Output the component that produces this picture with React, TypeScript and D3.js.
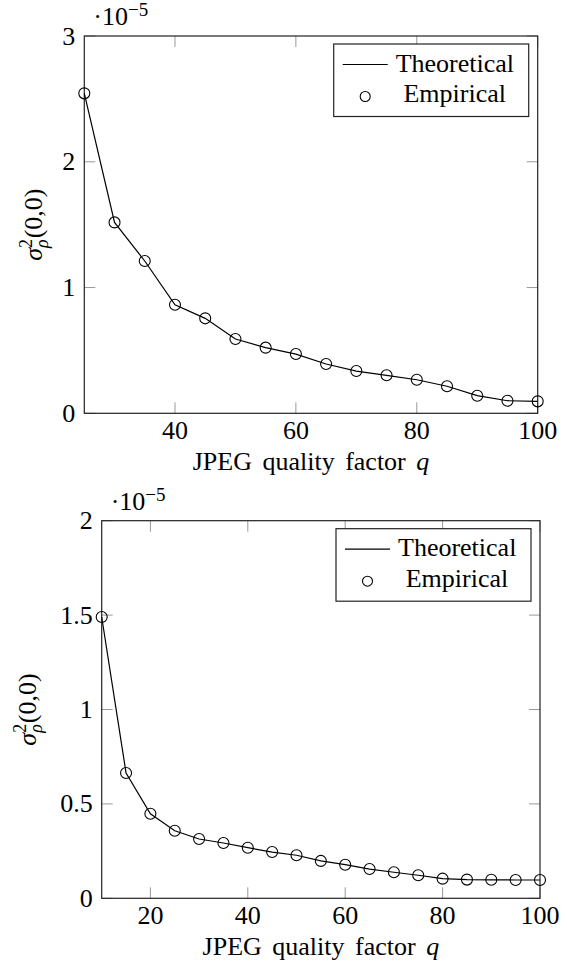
import React from "react";
import * as d3 from "d3";

const qTop = [25, 30, 35, 40, 45, 50, 55, 60, 65, 70, 75, 80, 85, 90, 95, 100];
const theoreticalTop = [2.544, 1.518, 1.211, 0.863, 0.755, 0.591, 0.522, 0.471, 0.392, 0.336, 0.302, 0.267, 0.215, 0.14, 0.1, 0.095];
const empiricalTop = [2.544, 1.518, 1.211, 0.863, 0.755, 0.591, 0.522, 0.471, 0.392, 0.336, 0.302, 0.267, 0.215, 0.14, 0.1, 0.095];
const xTicksTop = [40, 60, 80, 100];
const yTicksTop = [0, 1, 2, 3];

const qBottom = [10, 15, 20, 25, 30, 35, 40, 45, 50, 55, 60, 65, 70, 75, 80, 85, 90, 95, 100];
const theoreticalBottom = [1.49, 0.664, 0.448, 0.358, 0.314, 0.293, 0.268, 0.245, 0.228, 0.198, 0.178, 0.155, 0.138, 0.122, 0.104, 0.099, 0.098, 0.097, 0.097];
const empiricalBottom = [1.49, 0.664, 0.448, 0.358, 0.314, 0.293, 0.268, 0.245, 0.228, 0.198, 0.178, 0.155, 0.138, 0.122, 0.104, 0.099, 0.098, 0.097, 0.097];
const xTicksBottom = [20, 40, 60, 80, 100];
const yTicksBottom = [0, 0.5, 1, 1.5, 2];

const FONT = "Liberation Serif, Times New Roman, DejaVu Serif, serif";
const FS = 26;

type PanelProps = {
  q: number[];
  theo: number[];
  emp: number[];
  xDomain: [number, number];
  yDomain: [number, number];
  xTicks: number[];
  yTicks: number[];
  left: number;
  right: number;
  top: number;
  bottom: number;
  yLabelX: number;
};

function Panel(p: PanelProps) {
  const x = d3.scaleLinear().domain(p.xDomain).range([p.left, p.right]);
  const y = d3.scaleLinear().domain(p.yDomain).range([p.bottom, p.top]);
  const line = d3
    .line<number>()
    .x((_, i) => x(p.q[i]))
    .y((d) => y(d));
  const tickLen = 11;
  const fmt = (v: number) => String(v);
  const lgX0 = p.right - 9 - 195;
  const lgY0 = p.top + 8;
  const midY = (p.top + p.bottom) / 2;
  const ts = { fontFamily: FONT, fontSize: FS } as React.CSSProperties;
  return (
    <g>
      {p.xTicks.map((t) => (
        <g key={"xt" + t}>
          <line x1={x(t)} x2={x(t)} y1={p.bottom} y2={p.bottom - tickLen} stroke="#999" strokeWidth={1} />
          <line x1={x(t)} x2={x(t)} y1={p.top} y2={p.top + tickLen} stroke="#999" strokeWidth={1} />
          <text x={x(t)} y={p.bottom + 26} textAnchor="middle" style={ts}>
            {fmt(t)}
          </text>
        </g>
      ))}
      {p.yTicks.map((t) => (
        <g key={"yt" + t}>
          <line x1={p.left} x2={p.left + tickLen} y1={y(t)} y2={y(t)} stroke="#999" strokeWidth={1} />
          <line x1={p.right} x2={p.right - tickLen} y1={y(t)} y2={y(t)} stroke="#999" strokeWidth={1} />
          <text x={p.left - 9} y={y(t)} dy="0.33em" textAnchor="end" style={ts}>
            {fmt(t)}
          </text>
        </g>
      ))}
      <rect x={p.left} y={p.top} width={p.right - p.left} height={p.bottom - p.top} fill="none" stroke="#222" strokeWidth={1.2} />
      <path d={line(p.theo) || ""} fill="none" stroke="#000" strokeWidth={1.2} />
      {p.emp.map((v, i) => (
        <circle key={"c" + i} cx={x(p.q[i])} cy={y(v)} r={5.5} fill="none" stroke="#000" strokeWidth={1.1} />
      ))}
      <text x={p.left + 9} y={p.top - 11} style={ts}>
        ·10
        <tspan dy={-9} style={{ fontSize: 19 }}>−5</tspan>
      </text>
      <text x={(p.left + p.right) / 2} y={p.bottom + 57} textAnchor="middle" style={{ ...ts, wordSpacing: 4 }}>
        JPEG quality factor <tspan fontStyle="italic">q</tspan>
      </text>
      <text transform={`translate(${p.yLabelX},${midY}) rotate(-90)`} textAnchor="middle" style={ts}>
        <tspan fontStyle="italic">σ</tspan>
        <tspan dy={-10} style={{ fontSize: 18 }}>2</tspan>
        <tspan dy={16} dx={-9} style={{ fontSize: 18 }} fontStyle="italic">ρ</tspan>
        <tspan dy={-6} dx={1}>(0,0)</tspan>
      </text>
      <rect x={lgX0} y={lgY0} width={195} height={72.5} fill="#fff" stroke="#222" strokeWidth={1.2} />
      <line x1={lgX0 + 9} x2={lgX0 + 54} y1={lgY0 + 20.5} y2={lgY0 + 20.5} stroke="#000" strokeWidth={1.2} />
      <text x={lgX0 + 62} y={lgY0 + 27.5} style={ts}>
        Theoretical
      </text>
      <circle cx={lgX0 + 31.5} cy={lgY0 + 52.5} r={5} fill="none" stroke="#000" strokeWidth={1.1} />
      <text x={lgX0 + 121} y={lgY0 + 58} textAnchor="middle" style={ts}>
        Empirical
      </text>
    </g>
  );
}

export default function App() {
  return (
    <svg width={567} height={965} style={{ position: "absolute", left: 0, top: 0, background: "#fff" }}>
      <Panel
        q={qTop}
        theo={theoreticalTop}
        emp={empiricalTop}
        xDomain={[25, 100]}
        yDomain={[0, 3]}
        xTicks={xTicksTop}
        yTicks={yTicksTop}
        left={84.3}
        right={537.7}
        top={36}
        bottom={413.3}
        yLabelX={42}
      />
      <Panel
        q={qBottom}
        theo={theoreticalBottom}
        emp={empiricalBottom}
        xDomain={[10, 100]}
        yDomain={[0, 2]}
        xTicks={xTicksBottom}
        yTicks={yTicksBottom}
        left={101.7}
        right={540}
        top={520.7}
        bottom={898.3}
        yLabelX={36}
      />
    </svg>
  );
}
